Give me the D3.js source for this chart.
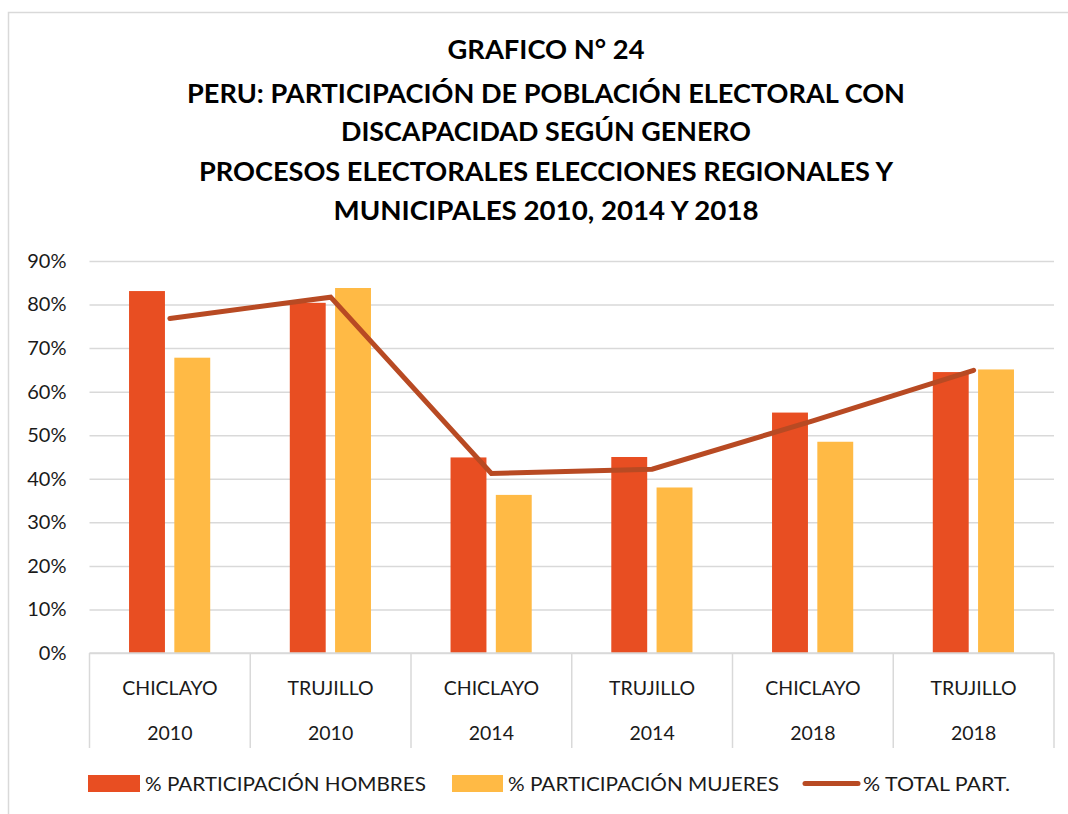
<!DOCTYPE html>
<html>
<head>
<meta charset="utf-8">
<script src="https://cdn.jsdelivr.net/npm/d3@7"></script>
<style>
  html, body { margin: 0; padding: 0; background: #fff; }
  svg { display: block; font-family: Lato, "Open Sans", sans-serif; }
</style>
</head>
<body>
<svg id="chart" width="1068" height="814"></svg>
<script>
// ---- data ----
const cities = ["CHICLAYO", "TRUJILLO", "CHICLAYO", "TRUJILLO", "CHICLAYO", "TRUJILLO"];
const years = ["2010", "2010", "2014", "2014", "2018", "2018"];
const hombres = [0.831, 0.804, 0.449, 0.450, 0.552, 0.645];
const mujeres = [0.678, 0.838, 0.363, 0.380, 0.485, 0.651];
const total = [0.768, 0.817, 0.412, 0.422, 0.533, 0.649];
const yTicks = [0, 0.1, 0.2, 0.3, 0.4, 0.5, 0.6, 0.7, 0.8, 0.9];
const titleLines = [
  "GRAFICO N° 24",
  "PERU: PARTICIPACIÓN DE POBLACIÓN ELECTORAL CON",
  "DISCAPACIDAD SEGÚN GENERO",
  "PROCESOS ELECTORALES ELECCIONES REGIONALES Y",
  "MUNICIPALES 2010, 2014 Y 2018"
];
const seriesNames = ["% PARTICIPACIÓN HOMBRES", "% PARTICIPACIÓN MUJERES", "% TOTAL PART."];

// ---- styles ----
const cRed = "#E84E22", cYel = "#FFBA45", cLine = "#B84A23";
const svg = d3.select("#chart");

// outer border
svg.append("rect").attr("x", 8.5).attr("y", 12.5).attr("width", 1080).attr("height", 820)
  .attr("fill", "none").attr("stroke", "#d9d9d9").attr("stroke-width", 1.5);

// title
const titleY = [59, 103, 141, 181, 220];
const titleW = [197, 718, 410, 694, 425];
svg.append("g").selectAll("text").data(titleLines).join("text")
  .attr("x", 546).attr("y", (d, i) => titleY[i])
  .attr("text-anchor", "middle").attr("font-weight", "bold").attr("font-size", 27.5)
  .attr("fill", "#000")
  .attr("textLength", (d, i) => titleW[i]).attr("lengthAdjust", "spacingAndGlyphs")
  .text(d => d);

// scales
const idx = d3.range(cities.length);
const x = d3.scaleBand().domain(idx).range([89.5, 1054]).paddingInner(0).paddingOuter(0);
const bw = x.bandwidth();
const x1 = d3.scaleBand().domain(["h", "m"]).range([bw * 0.246, bw * 0.751]).paddingInner(0.207).paddingOuter(0);
const y = d3.scaleLinear().domain([0, 0.9]).range([653, 261]);

// gridlines
const yAxis = d3.axisLeft(y).tickValues(yTicks).tickFormat(d3.format(".0%"))
  .tickSize(-(1054 - 89.5)).tickPadding(23);
const gy = svg.append("g").attr("transform", "translate(89.5,0)").call(yAxis);
gy.select(".domain").remove();
gy.selectAll(".tick line").attr("stroke", "#d9d9d9").attr("stroke-width", 1.5);
gy.selectAll(".tick text").attr("font-size", 20).attr("fill", "#1a1a1a")
  .attr("font-family", "Lato, sans-serif");

// bars
const gBars = svg.append("g");
gBars.selectAll("rect.h").data(idx).join("rect").attr("class", "h")
  .attr("x", i => x(i) + x1("h")).attr("width", x1.bandwidth())
  .attr("y", i => y(hombres[i])).attr("height", i => y(0) - y(hombres[i]))
  .attr("fill", cRed);
gBars.selectAll("rect.m").data(idx).join("rect").attr("class", "m")
  .attr("x", i => x(i) + x1("m")).attr("width", x1.bandwidth())
  .attr("y", i => y(mujeres[i])).attr("height", i => y(0) - y(mujeres[i]))
  .attr("fill", cYel);

// x axis (category boxes)
const gx = svg.append("g");
gx.append("line").attr("x1", 89.5).attr("x2", 1054).attr("y1", y(0)).attr("y2", y(0))
  .attr("stroke", "#d9d9d9").attr("stroke-width", 1.5);
const seps = idx.map(i => x(i)).concat([x(idx.length - 1) + bw]);
gx.selectAll("line.sep").data(seps).join("line").attr("class", "sep")
  .attr("x1", d => d).attr("x2", d => d).attr("y1", y(0)).attr("y2", 748)
  .attr("stroke", "#d9d9d9").attr("stroke-width", 1.5);
gx.selectAll("text.city").data(idx).join("text").attr("class", "city")
  .attr("x", i => x(i) + bw / 2).attr("y", 695).attr("text-anchor", "middle")
  .attr("font-size", 19.5).attr("fill", "#1a1a1a").text(i => cities[i]);
gx.selectAll("text.year").data(idx).join("text").attr("class", "year")
  .attr("x", i => x(i) + bw / 2).attr("y", 740).attr("text-anchor", "middle")
  .attr("font-size", 19.5).attr("fill", "#1a1a1a").text(i => years[i]);

// line
const line = d3.line().x(i => x(i) + bw / 2).y(i => y(total[i]));
svg.append("path").datum(idx).attr("d", line)
  .attr("fill", "none").attr("stroke", cLine).attr("stroke-width", 5)
  .attr("stroke-linecap", "round").attr("stroke-linejoin", "miter");

// legend
const lg = svg.append("g");
lg.append("rect").attr("x", 88).attr("y", 775).attr("width", 52).attr("height", 17).attr("fill", cRed);
lg.append("rect").attr("x", 452).attr("y", 775).attr("width", 51).attr("height", 17).attr("fill", cYel);
lg.append("line").attr("x1", 805).attr("x2", 858).attr("y1", 783.5).attr("y2", 783.5)
  .attr("stroke", cLine).attr("stroke-width", 5).attr("stroke-linecap", "round");
const legX = [145, 508, 863], legW = [281, 271, 147];
lg.selectAll("text").data(seriesNames).join("text")
  .attr("x", (d, i) => legX[i]).attr("y", 790.5).attr("font-size", 20).attr("fill", "#1a1a1a")
  .attr("textLength", (d, i) => legW[i]).attr("lengthAdjust", "spacingAndGlyphs")
  .text(d => d);
</script>
</body>
</html>
